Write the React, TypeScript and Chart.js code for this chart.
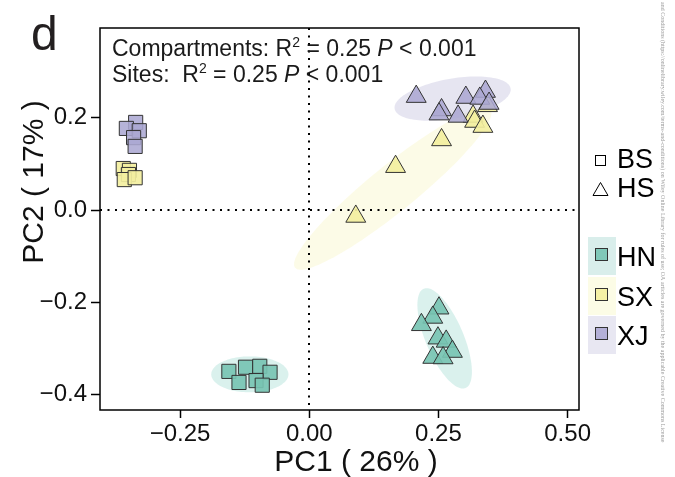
import React, { useEffect, useRef } from "react";
import { Chart, registerables } from "chart.js";

Chart.register(...registerables);

const FONT = "'Liberation Sans', Arial, Helvetica, sans-serif";

// ---------- axes ----------
const xMin = -0.405;
const xMax = 0.522;
const yMin = -0.4338;
const yMax = 0.3948;
const xTicks = [-0.25, 0, 0.25, 0.5];
const xTickLabels = ["\u22120.25", "0.00", "0.25", "0.50"];
const yTicks = [-0.4, -0.2, 0, 0.2];
const yTickLabels = ["\u22120.4", "\u22120.2", "0.0", "0.2"];
const xTitle = "PC1 ( 26% )";
const yTitle = "PC2 ( 17% )";
const panelLabel = "d";

// ---------- groups ----------
const sites = ["HN", "SX", "XJ"];
const compartments = ["BS", "HS"];

// ---------- points (PC1, PC2) ----------
const hnBsX = [-0.1556, -0.1234, -0.0958, -0.0759, -0.136, -0.103, -0.091];
const hnBsY = [-0.35, -0.341, -0.339, -0.352, -0.374, -0.37, -0.38];
const hnHsX = [0.251, 0.239, 0.217, 0.249, 0.265, 0.277, 0.239, 0.259];
const hnHsY = [-0.213, -0.233, -0.249, -0.278, -0.285, -0.307, -0.32, -0.321];
const sxBsX = [-0.36, -0.348, -0.35, -0.358, -0.337];
const sxBsY = [0.09, 0.086, 0.077, 0.066, 0.07];
const sxHsX = [0.09, 0.167, 0.256, 0.345, 0.317, 0.32, 0.336];
const sxHsY = [-0.014, 0.094, 0.152, 0.226, 0.203, 0.192, 0.181];
const xjBsX = [-0.336, -0.354, -0.329, -0.34, -0.337];
const xjBsY = [0.19, 0.177, 0.172, 0.157, 0.138];
const xjHsX = [0.207, 0.256, 0.251, 0.303, 0.288, 0.341, 0.33, 0.348];
const xjHsY = [0.246, 0.217, 0.208, 0.244, 0.203, 0.257, 0.242, 0.231];

// ---------- confidence ellipses: centre + two semi-axis vectors (data units) ----------
const ellHnBs = [-0.115, -0.3565, 0.0747, 0.0, 0.0, 0.039];
const ellHnHs = [0.262, -0.2784, 0.0405, -0.1077, 0.0338, 0.016];
const ellSxHs = [0.1616, 0.0466, 0.189, 0.1718, 0.028, -0.0388];
const ellXjHs = [0.2774, 0.2416, 0.1122, 0.0221, 0.00676, -0.0427];

// ---------- annotation ----------
const statLines = [
  { label: "Compartments: R", r2: "0.25", p: "0.001" },
  { label: "Sites:  R", r2: "0.25", p: "0.001" },
];

const watermark =
  "and Conditions (https://onlinelibrary.wiley.com/terms-and-conditions) on Wiley Online Library for rules of use; OA articles are governed by the applicable Creative Commons License";

// ---------- styles ----------
const fillColors: Record<string, string> = {
  HN: "rgba(120,196,179,0.92)",
  SX: "rgba(243,239,160,0.92)",
  XJ: "rgba(172,168,211,0.88)",
};
const ellipseColors: Record<string, string> = {
  HN: "rgba(141,211,199,0.32)",
  SX: "rgba(245,242,170,0.28)",
  XJ: "rgba(190,186,218,0.38)",
};
const legendBoxColors: Record<string, string> = {
  HN: "#d9eeeb",
  SX: "#fcfce6",
  XJ: "#e8e7f2",
};
const edge = "#333333";

function pts(xs: number[], ys: number[]) {
  return xs.map((x, i) => ({ x, y: ys[i] }));
}

function lookup(v: number, vals: number[], labels: string[]) {
  const i = vals.findIndex((t) => Math.abs(t - v) < 1e-9);
  return i >= 0 ? labels[i] : "";
}

const decorPlugin = {
  id: "pcaDecor",
  beforeDatasetsDraw(chart: any) {
    const { ctx, chartArea: a, scales } = chart;
    const xs = scales.x;
    const ys = scales.y;
    ctx.save();
    ctx.beginPath();
    ctx.rect(a.left, a.top, a.right - a.left, a.bottom - a.top);
    ctx.clip();
    const ells: [number[], string][] = [
      [ellSxHs, "SX"],
      [ellXjHs, "XJ"],
      [ellHnHs, "HN"],
      [ellHnBs, "HN"],
    ];
    for (const [e, s] of ells) {
      ctx.beginPath();
      const n = 120;
      for (let k = 0; k <= n; k++) {
        const t = (k / n) * Math.PI * 2;
        const vx = e[0] + e[2] * Math.cos(t) + e[4] * Math.sin(t);
        const vy = e[1] + e[3] * Math.cos(t) + e[5] * Math.sin(t);
        const px = xs.getPixelForValue(vx);
        const py = ys.getPixelForValue(vy);
        if (k === 0) ctx.moveTo(px, py);
        else ctx.lineTo(px, py);
      }
      ctx.closePath();
      ctx.fillStyle = ellipseColors[s];
      ctx.fill();
    }
    // dotted zero lines
    ctx.strokeStyle = "#000";
    ctx.lineWidth = 2;
    ctx.setLineDash([2, 5.5]);
    const x0 = Math.round(xs.getPixelForValue(0));
    const y0 = Math.round(ys.getPixelForValue(0));
    ctx.beginPath();
    ctx.moveTo(x0, a.top);
    ctx.lineTo(x0, a.bottom);
    ctx.moveTo(a.left, y0);
    ctx.lineTo(a.right, y0);
    ctx.stroke();
    ctx.restore();
  },
  afterDatasetsDraw(chart: any) {
    const { ctx, chartArea: a } = chart;
    ctx.save();
    // frame
    ctx.strokeStyle = "#000";
    ctx.lineWidth = 1.5;
    ctx.setLineDash([]);
    ctx.strokeRect(a.left, a.top, a.right - a.left, a.bottom - a.top);

    // stats text
    ctx.fillStyle = "#1a1a1a";
    ctx.textBaseline = "alphabetic";
    ctx.textAlign = "left";
    const baselines = [56, 82];
    statLines.forEach((ln, i) => {
      let x = 112;
      const y = baselines[i];
      const seg = (t: string, f: string, dy = 0) => {
        ctx.font = f;
        ctx.fillText(t, x, y + dy);
        x += ctx.measureText(t).width;
      };
      seg(ln.label, `23px ${FONT}`);
      seg("2", `14px ${FONT}`, -9);
      seg(" = " + ln.r2 + " ", `23px ${FONT}`);
      seg("P", `italic 23px ${FONT}`);
      seg(" < " + ln.p, `23px ${FONT}`);
    });

    // axis titles
    ctx.fillStyle = "#111";
    ctx.font = `30px ${FONT}`;
    ctx.textAlign = "center";
    ctx.fillText(xTitle, 356, 471);
    ctx.save();
    ctx.translate(43, 182);
    ctx.rotate(-Math.PI / 2);
    ctx.fillText(yTitle, 0, 0);
    ctx.restore();

    // panel label
    ctx.fillStyle = "#231f20";
    ctx.font = `48px ${FONT}`;
    ctx.textAlign = "left";
    ctx.fillText(panelLabel, 31, 50);

    // legend: compartments
    ctx.fillStyle = "#000";
    ctx.font = `27px ${FONT}`;
    ctx.strokeStyle = "#000";
    ctx.lineWidth = 1;
    ctx.strokeRect(595.5, 155.5, 10, 10);
    ctx.fillText(compartments[0], 617, 168);
    ctx.beginPath();
    ctx.moveTo(600.5, 182.5);
    ctx.lineTo(593, 195.5);
    ctx.lineTo(608, 195.5);
    ctx.closePath();
    ctx.stroke();
    ctx.fillText(compartments[1], 617, 197);

    // legend: sites
    const boxTops = [237, 277, 316];
    const textBase = [266, 306, 345];
    sites.forEach((s, i) => {
      ctx.fillStyle = legendBoxColors[s];
      ctx.fillRect(588, boxTops[i], 28, 38);
      ctx.fillStyle = fillColors[s];
      ctx.fillRect(595, boxTops[i] + 11, 13, 13);
      ctx.strokeStyle = edge;
      ctx.lineWidth = 1;
      ctx.strokeRect(595.5, boxTops[i] + 11.5, 12, 12);
      ctx.fillStyle = "#000";
      ctx.font = `27px ${FONT}`;
      ctx.fillText(s, 617, textBase[i]);
    });

    // watermark
    ctx.save();
    ctx.translate(661, 2);
    ctx.rotate(Math.PI / 2);
    ctx.fillStyle = "#9a9a9a";
    ctx.font = `6px 'Liberation Serif', serif`;
    ctx.textAlign = "left";
    ctx.fillText(watermark, 0, 0, 472);
    ctx.restore();

    ctx.restore();
  },
};

function makeDataset(site: string, comp: string, xs: number[], ys: number[]) {
  const tri = comp === "HS";
  return {
    label: `${site} ${comp}`,
    data: pts(xs, ys),
    pointStyle: tri ? "triangle" : "rect",
    pointRadius: tri ? 11.5 : 10,
    pointHoverRadius: tri ? 11.5 : 10,
    backgroundColor: fillColors[site],
    borderColor: edge,
    borderWidth: 1,
  };
}

export default function App() {
  const ref = useRef<HTMLCanvasElement | null>(null);
  useEffect(() => {
    if (!ref.current) return;
    const chart = new Chart(ref.current, {
      type: "scatter",
      data: {
        datasets: [
          makeDataset("XJ", "HS", xjHsX, xjHsY),
          makeDataset("XJ", "BS", xjBsX, xjBsY),
          makeDataset("SX", "HS", sxHsX, sxHsY),
          makeDataset("SX", "BS", sxBsX, sxBsY),
          makeDataset("HN", "HS", hnHsX, hnHsY),
          makeDataset("HN", "BS", hnBsX, hnBsY),
        ] as any,
      },
      options: {
        responsive: false,
        animation: false,
        events: [],
        layout: { padding: { top: 28, right: 96, left: 0, bottom: 0 } },
        plugins: { legend: { display: false }, tooltip: { enabled: false } },
        scales: {
          x: {
            type: "linear",
            min: xMin,
            max: xMax,
            afterBuildTicks: (s: any) => {
              s.ticks = xTicks.map((v) => ({ value: v }));
            },
            afterFit: (s: any) => {
              s.height = 67;
            },
            ticks: {
              autoSkip: false,
              maxRotation: 0,
              padding: 2,
              color: "#111",
              font: { family: FONT, size: 24 },
              callback: (v: any) => lookup(Number(v), xTicks, xTickLabels),
            },
            grid: {
              drawOnChartArea: false,
              drawTicks: true,
              tickLength: 8,
              tickColor: "#000",
              tickWidth: 1.5,
            },
            border: { display: false },
          },
          y: {
            type: "linear",
            min: yMin,
            max: yMax,
            afterBuildTicks: (s: any) => {
              s.ticks = yTicks.map((v) => ({ value: v }));
            },
            afterFit: (s: any) => {
              s.width = 100;
            },
            ticks: {
              autoSkip: false,
              padding: 4,
              color: "#111",
              font: { family: FONT, size: 24 },
              callback: (v: any) => lookup(Number(v), yTicks, yTickLabels),
            },
            grid: {
              drawOnChartArea: false,
              drawTicks: true,
              tickLength: 9,
              tickColor: "#000",
              tickWidth: 1.5,
            },
            border: { display: false },
          },
        },
      } as any,
      plugins: [decorPlugin],
    });
    return () => chart.destroy();
  }, []);
  return (
    <div
      style={{
        position: "fixed",
        left: 0,
        top: 0,
        width: 675,
        height: 477,
        background: "#fff",
      }}
    >
      <canvas ref={ref} width={675} height={477} style={{ display: "block" }} />
    </div>
  );
}
